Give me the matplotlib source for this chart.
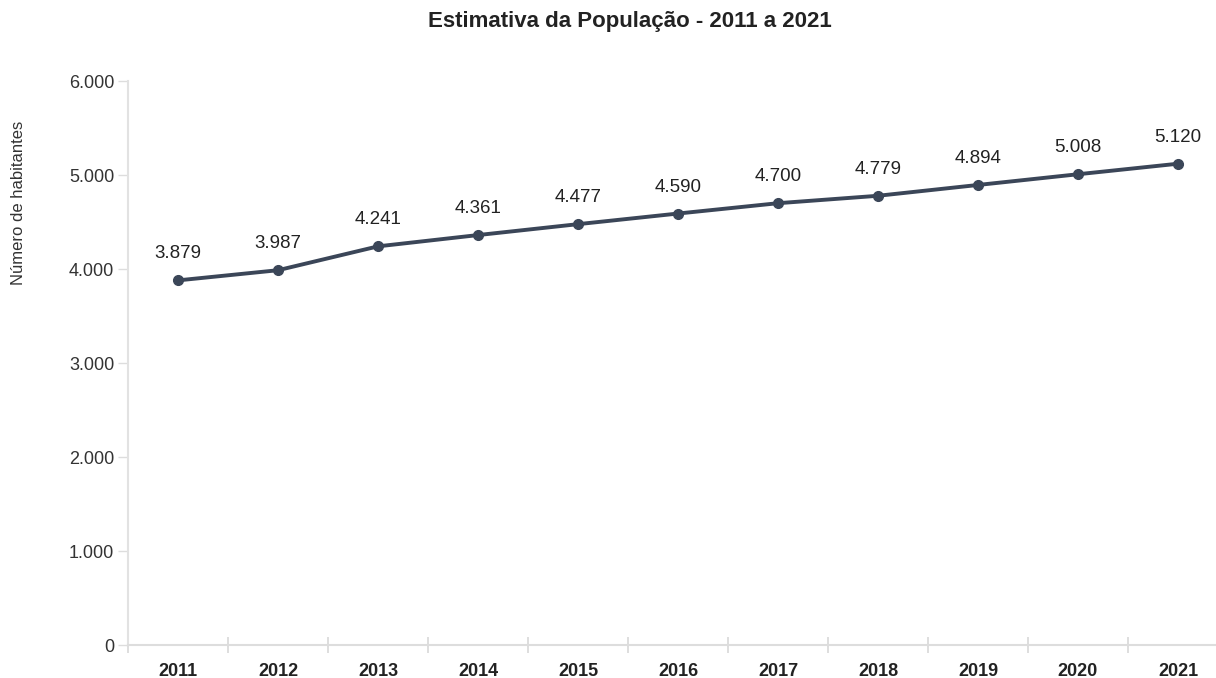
import matplotlib
matplotlib.use("Agg")
import matplotlib.pyplot as plt
from matplotlib.ticker import FuncFormatter

plt.rcParams['font.family'] = ['Liberation Sans', 'DejaVu Sans']

years = ['2011', '2012', '2013', '2014', '2015', '2016', '2017', '2018', '2019', '2020', '2021']
populacao = [3879, 3987, 4241, 4361, 4477, 4590, 4700, 4779, 4894, 5008, 5120]
y_ticks = [0, 1000, 2000, 3000, 4000, 5000, 6000]


def fmt_milhar(v):
    return f"{int(v):,}".replace(",", ".")


W, H = 1216, 678
fig = plt.figure(figsize=(W / 100, H / 100), dpi=100)
ax = fig.add_axes([128 / W, (H - 645) / H, 1 - 128 / W, (645 - 81) / H])

x = list(range(len(years)))
line_color = '#3b4658'
ax.plot(x, populacao, color=line_color, linewidth=2.8, marker='o', markersize=7,
        markerfacecolor=line_color, markeredgecolor=line_color, zorder=3)

for xi, v in zip(x, populacao):
    ax.annotate(fmt_milhar(v), (xi, v), xytext=(0, 19), textcoords='offset points',
                ha='center', va='center', fontsize=13.5, color='#222222')

ax.set_xlim(-0.5, 10.38)
ax.set_ylim(0, 6000)

ax.set_yticks(y_ticks)
ax.yaxis.set_major_formatter(FuncFormatter(lambda v, p: fmt_milhar(v)))
ax.tick_params(axis='y', length=7, width=1, color='#dddddd', labelsize=13,
               labelcolor='#333333', pad=3)

ax.set_xticks(x)
ax.set_xticklabels(years, fontweight='bold', fontsize=13, color='#222222')
ax.tick_params(axis='x', length=0, pad=13)
# category separators on the baseline
ax.set_xticks([i - 0.5 for i in range(len(years))], minor=True)
ax.tick_params(axis='x', which='minor', direction='inout', length=12, width=1.2,
               color='#d8d8d8')

for side in ['top', 'right']:
    ax.spines[side].set_visible(False)
ax.spines['left'].set_color('#e2e2e2')
ax.spines['left'].set_linewidth(1.5)
ax.spines['bottom'].set_color('#dddddd')
ax.spines['bottom'].set_linewidth(1.5)

fig.text(630 / W, 1 - 22 / H, 'Estimativa da População - 2011 a 2021',
         ha='center', va='center', fontsize=16, fontweight='bold', color='#222222')
fig.text(19 / W, 1 - 203 / H, 'Número de habitantes', rotation=90,
         ha='center', va='center', fontsize=12, color='#333333')

fig.savefig('out.png', dpi=100, facecolor='white')
